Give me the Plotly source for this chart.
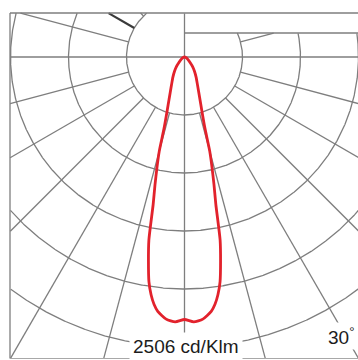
import numpy as np
import plotly.graph_objects as go

# ---- data ----
gamma_deg = [0, 2, 4, 6, 7, 8, 9, 10, 11, 12, 13, 14, 15, 16, 18, 20, 25, 30, 35, 40, 45, 55, 70, 90]
intensity_cdklm = [2263, 2285, 2265, 2205, 2150, 2070, 1960, 1790, 1610, 1300, 1130, 980, 840,
                   640, 480, 390, 265, 200, 150, 110, 70, 35, 12, 0]
circle_values = [500, 1000, 1500, 2000, 2500, 3000]
radial_angles = list(range(0, 360, 15))
scale_label = "2506 cd/Klm"
angle_label = "30<sup>°</sup>"

# ---- layout geometry (pixel mapping) ----
W, H = 358, 360
CX, CY = 184.5, 57.0          # polar centre in pixels
PX_PER_UNIT = 58.0 / 500.0     # 500 cd/klm per ring


def ux(px):
    return (px - CX) / PX_PER_UNIT


def uy(py):
    return -(py - CY) / PX_PER_UNIT


BOX_LEFT = ux(10)
BOX_TOP_L = uy(13)
BOX_TOP_R = uy(33)
BOX_BOTTOM = uy(358.5)
INNER = circle_values[0]


def mask(xs, ys):
    xs = np.asarray(xs, float)
    ys = np.asarray(ys, float)
    top = np.where(xs > 1.0, BOX_TOP_R, BOX_TOP_L)
    bad = (xs < BOX_LEFT) | (ys > top) | (ys < BOX_BOTTOM)
    xo = [None if b else float(v) for v, b in zip(xs, bad)]
    yo = [None if b else float(v) for v, b in zip(ys, bad)]
    return xo, yo


def polar_xy(g_deg, r):
    g = np.radians(g_deg)
    return r * np.sin(g), -r * np.cos(g)


GRID = "#7e7e7e"
fig = go.Figure()

# concentric rings
gx, gy = [], []
for rv in circle_values:
    t = np.arange(0, 360.2, 0.2)
    x, y = polar_xy(t, rv)
    xo, yo = mask(x, y)
    gx += xo + [None]
    gy += yo + [None]

# radial lines (main axes run through the centre)
special = []
for a in radial_angles:
    r0 = 0 if a % 90 == 0 else INNER
    rr = np.arange(r0, 4000, 4.0)
    x, y = polar_xy(a, rr)
    if a == 240:  # upper-left line drawn darker in the reference
        special.append((x, y))
        continue
    xo, yo = mask(x, y)
    gx += xo + [None]
    gy += yo + [None]

fig.add_trace(go.Scatter(x=gx, y=gy, mode="lines", line=dict(color=GRID, width=1.3),
                         hoverinfo="skip", showlegend=False))
sx, sy = [], []
for x, y in special:
    xo, yo = mask(x, y)
    sx += xo + [None]
    sy += yo + [None]
fig.add_trace(go.Scatter(x=sx, y=sy, mode="lines", line=dict(color="#3a3a3a", width=2.2),
                         hoverinfo="skip", showlegend=False))

# luminous intensity curve (symmetric)
g_full = [-g for g in gamma_deg[::-1]] + gamma_deg[1:]
i_full = intensity_cdklm[::-1] + intensity_cdklm[1:]
cx_, cy_ = polar_xy(np.array(g_full, float), np.array(i_full, float))
fig.add_trace(go.Scatter(x=cx_, y=cy_, mode="lines",
                         line=dict(color="#e2222c", width=2.8, shape="spline", smoothing=0.6),
                         hoverinfo="skip", showlegend=False))

# frame
line = dict(color=GRID, width=1.3)
fig.add_shape(type="line", x0=BOX_LEFT, x1=ux(W + 5), y0=BOX_TOP_L, y1=BOX_TOP_L, line=line)
fig.add_shape(type="line", x0=0, x1=ux(W + 5), y0=BOX_TOP_R, y1=BOX_TOP_R, line=line)
fig.add_shape(type="line", x0=BOX_LEFT, x1=BOX_LEFT, y0=BOX_TOP_L, y1=BOX_BOTTOM, line=line)
fig.add_shape(type="line", x0=BOX_LEFT, x1=ux(W + 5), y0=BOX_BOTTOM, y1=BOX_BOTTOM,
              line=dict(color="#a8a8a8", width=1))

fig.add_annotation(x=ux(186), y=uy(346), text=scale_label, showarrow=False,
                   font=dict(family="Liberation Sans, Arial", size=19, color="#1c1c1c"),
                   bgcolor="white", borderpad=3, xanchor="center", yanchor="middle")
fig.add_annotation(x=ux(326), y=uy(336), text=angle_label, showarrow=False,
                   font=dict(family="Liberation Sans, Arial", size=19, color="#1c1c1c"),
                   bgcolor="white", borderpad=1, xanchor="left", yanchor="middle")

fig.update_layout(
    width=W, height=H, margin=dict(l=0, r=0, t=0, b=0),
    paper_bgcolor="white", plot_bgcolor="white",
    xaxis=dict(range=[ux(0), ux(W)], visible=False, fixedrange=True),
    yaxis=dict(range=[uy(H), uy(0)], visible=False, fixedrange=True),
)
fig.write_html("out.html", config={"displayModeBar": False},
               post_script="document.body.style.margin='0';document.body.style.overflow='hidden';")
